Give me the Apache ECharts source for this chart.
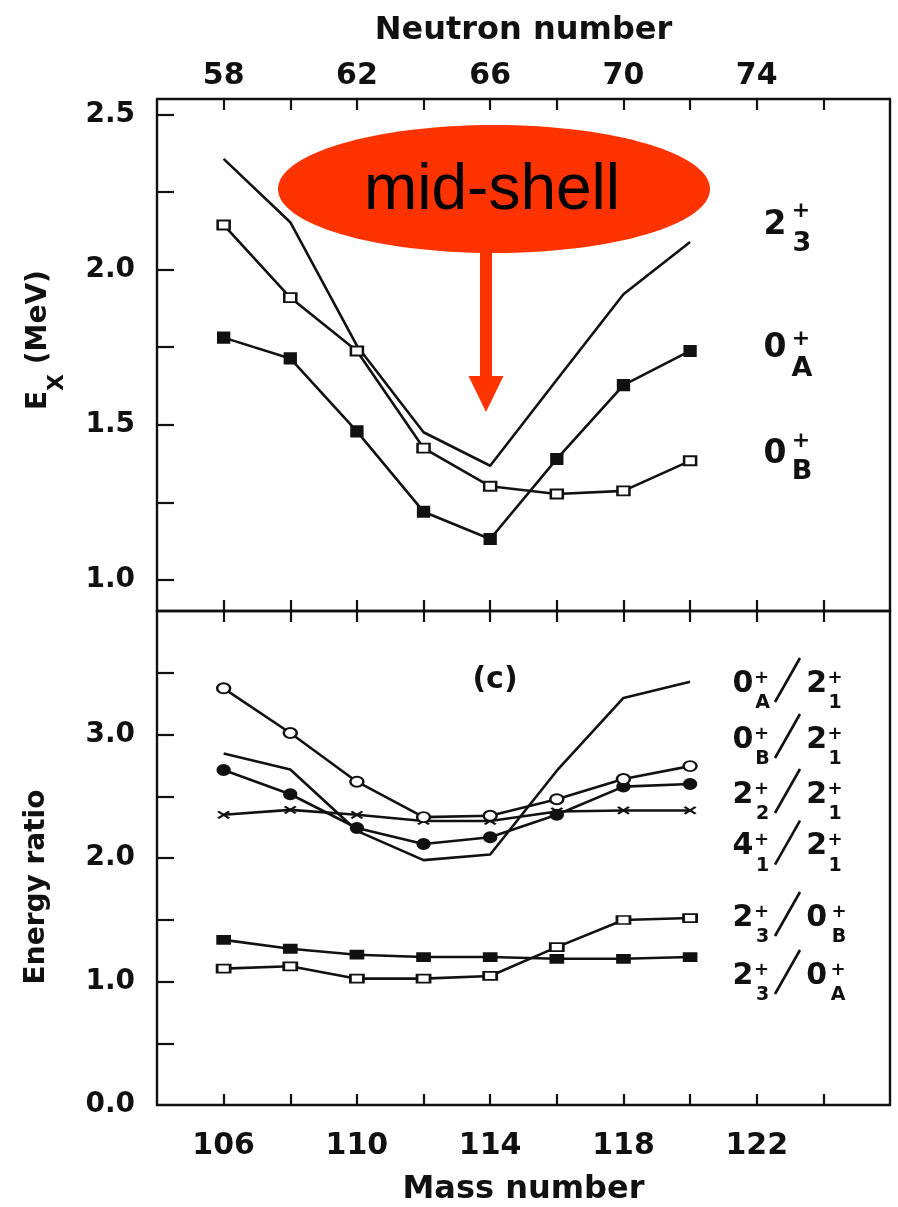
<!DOCTYPE html>
<html>
<head>
<meta charset="utf-8">
<script src="https://cdn.jsdelivr.net/npm/echarts@6/dist/echarts.min.js"></script>
<style>
html,body{margin:0;padding:0;background:#fff;}
#chart{width:898px;height:1207px;}
</style>
</head>
<body>
<div id="chart"></div>
<script>
// ---------- data ----------
const massNumbers = [106, 108, 110, 112, 114, 116, 118, 120];
// upper panel: excitation energies (MeV)
const ex2plus3 = [2.357, 2.153, 1.755, 1.476, 1.368, 1.645, 1.921, 2.089];
const ex0plusA = [1.781, 1.714, 1.479, 1.220, 1.132, 1.390, 1.628, 1.738];
const ex0plusB = [2.144, 1.910, 1.738, 1.425, 1.302, 1.277, 1.287, 1.384];
// lower panel: energy ratios
const ratio0A_21 = [2.846, 2.717, 2.220, 1.983, 2.028, 2.707, 3.296, 3.427];
const ratio0B_21 = [3.374, 3.012, 2.618, 2.331, 2.342, 2.476, 2.639, 2.744];
const ratio22_21 = [2.712, 2.516, 2.243, 2.114, 2.168, 2.350, 2.578, 2.599];
const ratio41_21 = [2.350, 2.390, 2.350, 2.300, 2.300, 2.377, 2.385, 2.385];
const ratio23_0B = [1.104, 1.123, 1.023, 1.023, 1.045, 1.278, 1.498, 1.514];
const ratio23_0A = [1.337, 1.265, 1.217, 1.198, 1.198, 1.184, 1.184, 1.198];
// axis ticks / labels
const massTicks = [106, 108, 110, 112, 114, 116, 118, 120, 122, 124];
const massLabels = [106, 110, 114, 118, 122];
const neutronOffset = 48; // N = A - 48
const exTicks = [1.0, 1.25, 1.5, 1.75, 2.0, 2.25, 2.5];
const exLabels = [1.0, 1.5, 2.0, 2.5];
const ratioTicks = [0.5, 1.0, 1.5, 2.0, 2.5, 3.0, 3.5];
const ratioLabels = [0, 1, 2, 3];

// ---------- styles ----------
const FONT = 'DejaVu Sans';
const BLACK = '#111';
const RED = '#ff3300';

function pts(ys) { return massNumbers.map((m, i) => [m, ys[i]]); }

function xAxisDef(grid, pos, withLabels, labelFmt, margin, extra) {
  return Object.assign({
    type: 'value', gridIndex: grid, position: pos, min: 104, max: 126,
    axisLine: { show: true, onZero: false, lineStyle: { color: BLACK, width: 2.4 } },
    axisTick: { show: true, inside: true, length: 11, customValues: massTicks, lineStyle: { color: BLACK, width: 2.2 } },
    axisLabel: withLabels ? { show: true, customValues: massLabels, formatter: labelFmt,
      fontFamily: FONT, fontWeight: 'bold', fontSize: 30, color: BLACK, margin: margin } : { show: false },
    splitLine: { show: false }
  }, extra || {});
}
function yAxisDef(grid, pos, min, max, ticks, labels, extra) {
  return Object.assign({
    type: 'value', gridIndex: grid, position: pos, min: min, max: max,
    axisLine: { show: true, onZero: false, lineStyle: { color: BLACK, width: 2.4 } },
    axisTick: ticks ? { show: true, inside: true, length: 17, customValues: ticks, lineStyle: { color: BLACK, width: 2.2 } } : { show: false },
    axisLabel: labels ? { show: true, customValues: labels, formatter: v => Number(v).toFixed(1),
      fontFamily: FONT, fontWeight: 'bold', fontSize: 28, color: BLACK, margin: 22 } : { show: false },
    splitLine: { show: false }
  }, extra || {});
}

function lineSeries(xi, yi, data, symbol, size, filled) {
  return {
    type: 'line', xAxisIndex: xi, yAxisIndex: yi, data: pts(data),
    symbol: symbol, symbolSize: size, showSymbol: symbol !== 'none',
    lineStyle: { color: BLACK, width: 2.6 },
    itemStyle: { color: filled ? BLACK : '#fff', borderColor: BLACK, borderWidth: 2.2 },
    emphasis: { disabled: true }, z: 3
  };
}

// ---------- annotation helpers ----------
function txt(x, y, s, size, align) {
  return { type: 'text', z: 20, style: { text: s, x: x, y: y, fill: BLACK,
    font: 'bold ' + size + 'px "' + FONT + '"', align: align || 'center', verticalAlign: 'middle' } };
}
function levelLabel(cy, main, sup, sub, supDy, subDy) {
  return [txt(775, cy, main, 33), txt(801, cy + supDy, sup, 22), txt(802, cy + subDy, sub, 27)];
}
function ratioLabel(cy, a, aSub, b, bSub, shiftB) {
  const s = shiftB || 0;
  return [
    txt(743, cy, a, 30), txt(761.5, cy - 6, '+', 18), txt(762.5, cy + 19, aSub, 19),
    { type: 'line', z: 20, shape: { x1: 775, y1: cy + 18, x2: 800, y2: cy - 26 }, style: { stroke: BLACK, lineWidth: 2.6 } },
    txt(816.7, cy, b, 30), txt(835 + s, cy - 6, '+', 18), txt(835 + s, cy + 19, bSub, 19)
  ];
}

const graphics = [].concat(
  // mid-shell annotation
  [{ type: 'ellipse', z: 10, shape: { cx: 494, cy: 189, rx: 216, ry: 64 }, style: { fill: RED } },
   { type: 'text', z: 11, style: { text: 'mid-shell', x: 492, y: 191, fill: '#000',
      font: '64px "Liberation Sans"', align: 'center', verticalAlign: 'middle' } },
   { type: 'rect', z: 10, shape: { x: 480, y: 245, width: 12, height: 133 }, style: { fill: RED } },
   { type: 'polygon', z: 10, shape: { points: [[468.5, 376], [503.5, 376], [486, 412]] }, style: { fill: RED } }],
  levelLabel(225, '2', '+', '3', -13.5, 19),
  levelLabel(348.5, '0', '+', 'A', -9, 20.5),
  levelLabel(454.5, '0', '+', 'B', -13, 17.5),
  [txt(495, 680, '(c)', 30)],
  ratioLabel(684, '0', 'A', '2', '1'),
  ratioLabel(740, '0', 'B', '2', '1'),
  ratioLabel(795, '2', '2', '2', '1'),
  ratioLabel(846.7, '4', '1', '2', '1'),
  ratioLabel(918, '2', '3', '0', 'B', 4),
  ratioLabel(976, '2', '3', '0', 'A', 3),
  // left axis titles (rotated)
  [{ type: 'group', x: 39, y: 340, rotation: Math.PI / 2, z: 20, children: [
      { type: 'text', style: { text: 'E', x: -70, y: 0, fill: BLACK, font: 'bold 28px "' + FONT + '"', align: 'left', verticalAlign: 'middle' } },
      { type: 'text', style: { text: 'X', x: -51, y: 18, fill: BLACK, font: 'bold 22px "' + FONT + '"', align: 'left', verticalAlign: 'middle' } },
      { type: 'text', style: { text: ' (MeV)', x: -34, y: 0, fill: BLACK, font: 'bold 28px "' + FONT + '"', align: 'left', verticalAlign: 'middle' } }
   ] },
   { type: 'text', z: 20, x: 37, y: 887, rotation: Math.PI / 2,
     style: { text: 'Energy ratio', x: 0, y: 0, fill: BLACK, font: 'bold 28px "' + FONT + '"', align: 'center', verticalAlign: 'middle' } }]
);

const option = {
  animation: false,
  backgroundColor: '#fff',
  grid: [
    { left: 157, top: 99, width: 733, height: 512, show: false },
    { left: 157, top: 611, width: 733, height: 498, show: false }
  ],
  xAxis: [
    xAxisDef(0, 'top', true, v => String(v - neutronOffset), 8, {
      name: 'Neutron number', nameLocation: 'middle', nameGap: 52,
      nameTextStyle: { fontFamily: FONT, fontWeight: 'bold', fontSize: 32, color: BLACK } }),
    xAxisDef(0, 'bottom', false),
    xAxisDef(1, 'top', false),
    xAxisDef(1, 'bottom', true, v => String(v), 26, {
      name: 'Mass number', nameLocation: 'middle', nameGap: 69,
      nameTextStyle: { fontFamily: FONT, fontWeight: 'bold', fontSize: 32, color: BLACK } })
  ],
  yAxis: [
    yAxisDef(0, 'left', 0.9, 2.55, exTicks, exLabels),
    yAxisDef(0, 'right', 0.9, 2.55, null, null),
    yAxisDef(1, 'left', 0, 4, ratioTicks, ratioLabels),
    yAxisDef(1, 'right', 0, 4, null, null)
  ],
  series: [
    lineSeries(1, 0, ex2plus3, 'none', 0, true),
    lineSeries(1, 0, ex0plusB, 'rect', [12, 9], false),
    lineSeries(1, 0, ex0plusA, 'rect', [11, 10], true),
    lineSeries(3, 2, ratio0A_21, 'none', 0, true),
    lineSeries(3, 2, ratio41_21, 'path://M0,0L12,8M12,0L0,8', [11, 7], true),
    lineSeries(3, 2, ratio22_21, 'circle', [12, 10], true),
    lineSeries(3, 2, ratio0B_21, 'circle', [13, 10], false),
    lineSeries(3, 2, ratio23_0A, 'rect', [12, 8], true),
    lineSeries(3, 2, ratio23_0B, 'rect', [13, 8], false)
  ],
  graphic: graphics
};

const chart = echarts.init(document.getElementById('chart'), null, { renderer: 'canvas' });
chart.setOption(option);
</script>
</body>
</html>
